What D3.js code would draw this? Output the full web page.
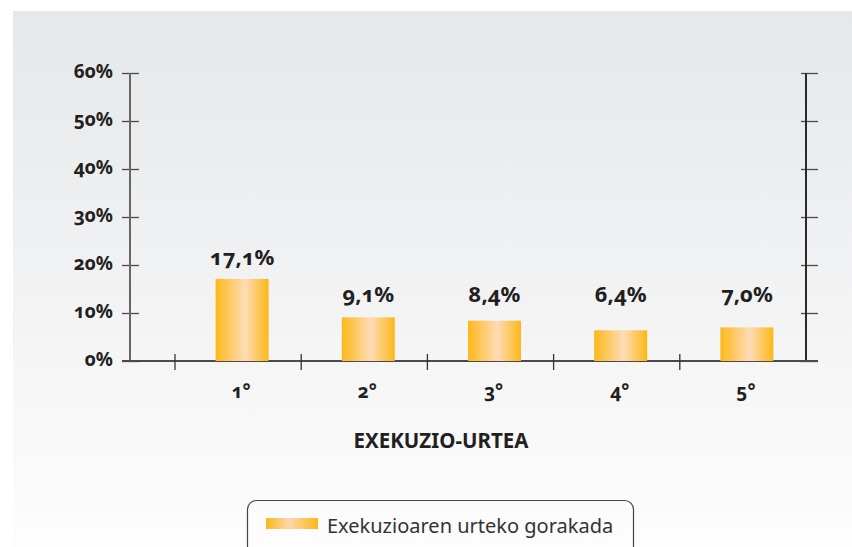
<!DOCTYPE html>
<html>
<head>
<meta charset="utf-8">
<script src="https://cdn.jsdelivr.net/npm/d3@7"></script>
<style>
  body { margin: 0; background: #fff; }
  svg { display: block; font-family: "Noto Sans", "Open Sans", sans-serif; }
  .num { font-feature-settings: "onum" 1; font-variant-numeric: oldstyle-nums; }
</style>
</head>
<body>
<svg width="852" height="547"></svg>
<script>
// data
var years = ["1°", "2°", "3°", "4°", "5°"];
var growth = [17.1, 9.1, 8.4, 6.4, 7.0];
var valueLabels = ["17,1%", "9,1%", "8,4%", "6,4%", "7,0%"];
var yTicks = [0, 10, 20, 30, 40, 50, 60];
var xTitle = "EXEKUZIO-URTEA";
var legendLabel = "Exekuzioaren urteko gorakada";

var svg = d3.select("svg"),
    width = +svg.attr("width"),
    height = +svg.attr("height");

var defs = svg.append("defs");

// background panel gradient
var bg = defs.append("linearGradient")
    .attr("id", "bg")
    .attr("x1", 0).attr("y1", 0).attr("x2", 0).attr("y2", 1);
bg.append("stop").attr("offset", "0%").attr("stop-color", "#e6e7e9");
bg.append("stop").attr("offset", "100%").attr("stop-color", "#fdfdfd");

// bar gradient (horizontal)
var barGrad = defs.append("linearGradient")
    .attr("id", "barGrad")
    .attr("x1", 0).attr("y1", 0).attr("x2", 1).attr("y2", 0);
barGrad.append("stop").attr("offset", "0%").attr("stop-color", "#fcb817");
barGrad.append("stop").attr("offset", "55%").attr("stop-color", "#fedcb8");
barGrad.append("stop").attr("offset", "100%").attr("stop-color", "#fcb817");

svg.append("rect")
    .attr("x", 13).attr("y", 11)
    .attr("width", width - 13).attr("height", height - 11)
    .attr("fill", "url(#bg)");

// scales
var y = d3.scaleLinear().domain([0, 60]).range([361, 73]);
var x = d3.scaleBand().domain(years).range([175, 806]);

var leftX = 130, rightX = 806;
var axisColour = "#4a4a4a";
var textColour = "#231f20";
var font = '"Noto Sans", "Open Sans", sans-serif';

// left axis
var yAxis = svg.append("g")
    .attr("transform", "translate(" + (leftX + 9) + ",0)")
    .call(d3.axisLeft(y).tickValues(yTicks).tickSize(17).tickPadding(9)
        .tickFormat(function(d) { return d + "%"; }));
yAxis.attr("font-family", null).attr("font-size", null);
yAxis.select(".domain").remove();
yAxis.selectAll(".tick line").attr("stroke", axisColour).attr("stroke-width", 1.3);
yAxis.selectAll(".tick text")
    .attr("class", "num")
    .attr("fill", textColour)
    .attr("dy", "0.22em")
    .style("font-family", font)
    .style("font-size", "19px")
    .style("font-weight", "bold");

svg.append("line")
    .attr("x1", leftX).attr("x2", leftX)
    .attr("y1", y(60)).attr("y2", y(0))
    .attr("stroke", "#666").attr("stroke-width", 2);

// right axis
var yAxisR = svg.append("g")
    .attr("transform", "translate(" + (rightX - 5) + ",0)")
    .call(d3.axisRight(y).tickValues(yTicks).tickSize(17).tickFormat(""));
yAxisR.select(".domain").remove();
yAxisR.selectAll(".tick line").attr("stroke", axisColour).attr("stroke-width", 1.3);

svg.append("line")
    .attr("x1", rightX).attr("x2", rightX)
    .attr("y1", y(60)).attr("y2", y(0))
    .attr("stroke", "#2a2a2a").attr("stroke-width", 2);

// baseline
svg.append("line")
    .attr("x1", 122).attr("x2", 818)
    .attr("y1", y(0)).attr("y2", y(0))
    .attr("stroke", axisColour).attr("stroke-width", 2);

// category separators
svg.selectAll(".sep")
    .data(years)
    .enter()
    .append("line")
    .attr("class", "sep")
    .attr("x1", function(d) { return x(d); })
    .attr("x2", function(d) { return x(d); })
    .attr("y1", y(0) - 7).attr("y2", y(0) + 9)
    .attr("stroke", "#333").attr("stroke-width", 1.3);

// bars
var barW = 53;
svg.selectAll(".bar")
    .data(growth)
    .enter()
    .append("rect")
    .attr("class", "bar")
    .attr("x", function(d, i) { return x(years[i]) + x.bandwidth() / 2 + 4 - barW / 2; })
    .attr("y", function(d) { return y(d); })
    .attr("width", barW)
    .attr("height", function(d) { return y(0) - y(d); })
    .attr("fill", "url(#barGrad)");

// value labels
svg.selectAll(".val")
    .data(growth)
    .enter()
    .append("text")
    .attr("class", "val num")
    .attr("x", function(d, i) { return x(years[i]) + x.bandwidth() / 2 + 4; })
    .attr("y", function(d) { return y(Math.max(d, 9.4)) - 14; })
    .attr("text-anchor", "middle")
    .attr("fill", textColour)
    .style("font-size", "22px")
    .style("font-weight", "bold")
    .text(function(d, i) { return valueLabels[i]; });

// category labels
svg.selectAll(".cat")
    .data(years)
    .enter()
    .append("text")
    .attr("class", "cat num")
    .attr("x", function(d) { return x(d) + x.bandwidth() / 2 + 3; })
    .attr("y", 398)
    .attr("text-anchor", "middle")
    .attr("fill", textColour)
    .style("font-size", "19px")
    .style("font-weight", "bold")
    .text(function(d) { return d; });

// axis title
svg.append("text")
    .attr("x", 441)
    .attr("y", 448)
    .attr("text-anchor", "middle")
    .attr("fill", textColour)
    .style("font-size", "20.5px")
    .style("font-weight", "bold")
    .text(xTitle);

// legend
svg.append("rect")
    .attr("x", 247.5).attr("y", 500.5)
    .attr("width", 386).attr("height", 70)
    .attr("rx", 9)
    .attr("fill", "none")
    .attr("stroke", "#444")
    .attr("stroke-width", 1.2);

var legGrad = defs.append("linearGradient")
    .attr("id", "legGrad")
    .attr("x1", 0).attr("y1", 0).attr("x2", 1).attr("y2", 0);
legGrad.append("stop").attr("offset", "0%").attr("stop-color", "#fcb817");
legGrad.append("stop").attr("offset", "45%").attr("stop-color", "#fcd7ad");
legGrad.append("stop").attr("offset", "100%").attr("stop-color", "#fcb817");

svg.append("rect")
    .attr("x", 266).attr("y", 518)
    .attr("width", 52).attr("height", 11)
    .attr("fill", "url(#legGrad)");

svg.append("text")
    .attr("x", 327)
    .attr("y", 533)
    .attr("fill", "#333")
    .style("font-size", "20px")
    .text(legendLabel);
</script>
</body>
</html>
